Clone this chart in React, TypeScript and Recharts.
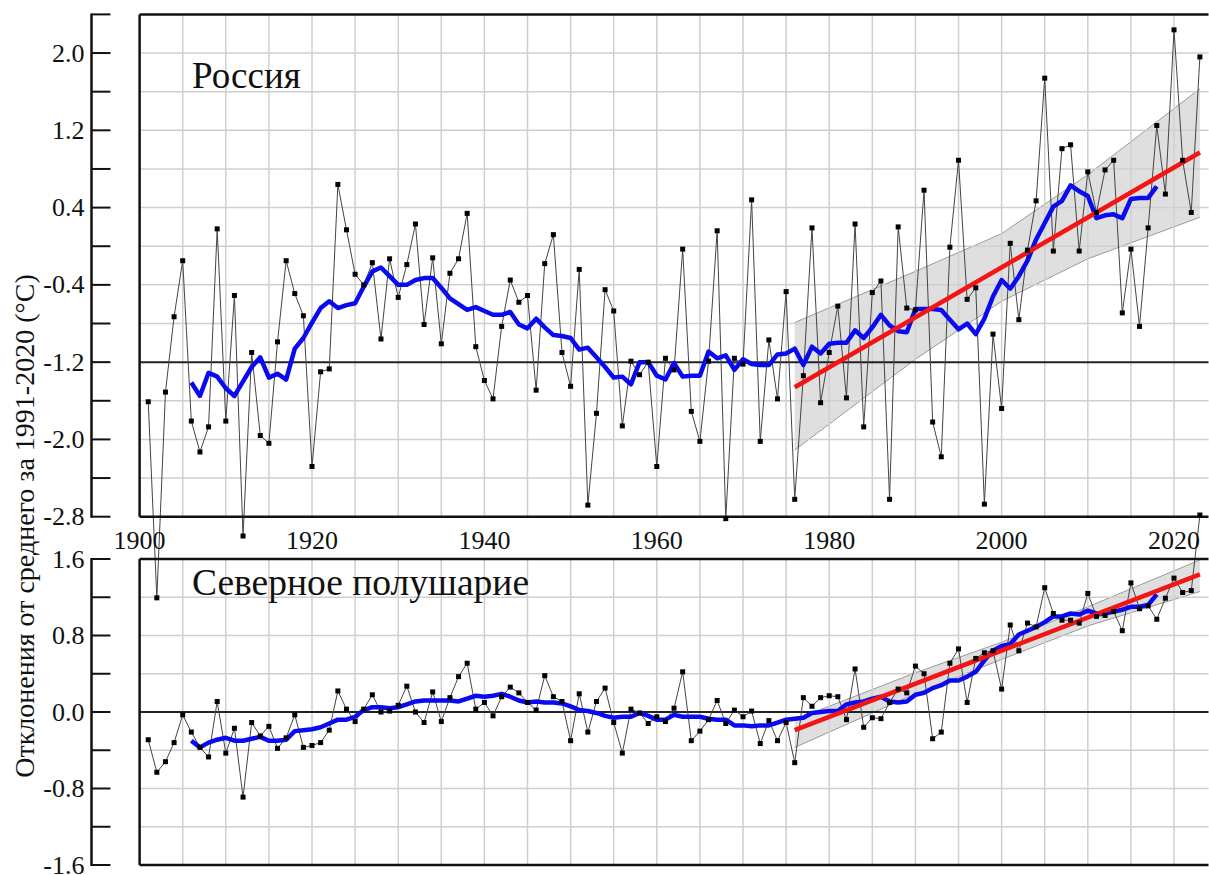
import React from 'react';
import { ComposedChart, Line, Area, XAxis, YAxis, ReferenceLine } from 'recharts';

// annual anomalies, 1901..2023 (values as read on each panel's own axis)
const FIRST_YEAR = 1901;
const russiaAnnual = [
    -1.61, -3.64, -1.51, -0.73, -0.15, -1.81, -2.13, -1.87, 0.18, -1.81,
    -0.51, -3.0, -1.1, -1.96, -2.04, -0.99, -0.15, -0.49, -0.72, -2.28,
    -1.3, -1.27, 0.64, 0.17, -0.29, -0.4, -0.17, -0.96, -0.13, -0.53,
    -0.19, 0.23, -0.81, -0.12, -1.01, -0.28, -0.13, 0.34, -1.04, -1.39,
    -1.58, -0.83, -0.35, -0.58, -0.51, -1.49, -0.18, 0.12, -1.1, -1.45,
    -0.24, -2.68, -1.73, -0.45, -0.67, -1.86, -1.19, -1.33, -1.2, -2.28,
    -1.16, -1.28, -0.03, -1.71, -2.02, -1.19, 0.16, -2.82, -1.16, -1.22,
    0.48, -2.02, -0.97, -1.58, -0.47, -2.62, -1.34, 0.19, -1.62, -1.1,
    -0.62, -1.57, 0.23, -1.87, -0.48, -0.36, -2.62, 0.2, -0.64, -0.66,
    0.58, -1.82, -2.18, -0.01, 0.89, -0.55, -0.43, -2.67, -0.91, -1.68,
    0.03, -0.76, -0.04, 0.47, 1.74, -0.05, 1.01, 1.05, -0.05, 0.77,
    0.35, 0.79, 0.89, -0.69, -0.03, -0.83, 0.19, 1.25, 0.54, 2.24,
    0.89, 0.35, 1.96,
];
const nhAnnual = [
    -0.29, -0.63, -0.52, -0.32, -0.03, -0.21, -0.37, -0.47, 0.11, -0.43,
    -0.17, -0.89, -0.11, -0.25, -0.15, -0.38, -0.27, -0.03, -0.37, -0.35,
    -0.32, -0.19, 0.22, 0.03, -0.1, 0.03, 0.18, 0.0, 0.01, 0.07,
    0.27, 0.0, -0.11, 0.21, -0.1, 0.15, 0.37, 0.51, 0.03, 0.1,
    -0.04, 0.16, 0.26, 0.2, 0.1, 0.02, 0.38, 0.16, 0.11, -0.3,
    0.19, -0.21, 0.11, 0.25, -0.11, -0.43, 0.03, -0.01, -0.12, -0.05,
    -0.1, 0.04, 0.42, -0.3, -0.2, -0.08, 0.12, -0.12, 0.02, -0.05,
    0.01, -0.33, -0.09, -0.3, -0.11, -0.53, 0.15, 0.06, 0.15, 0.17,
    0.16, -0.08, 0.45, -0.16, -0.06, -0.07, 0.1, 0.24, 0.2, 0.48,
    0.4, -0.28, -0.21, 0.51, 0.66, 0.1, 0.56, 0.62, 0.64, 0.24,
    0.91, 0.64, 0.93, 0.89, 1.3, 1.03, 0.96, 0.96, 0.93, 1.24,
    1.0, 1.01, 1.05, 0.85, 1.35, 1.08, 1.11, 0.97, 1.19, 1.4,
    1.25, 1.27, 2.06,
];

// 11-year running means, 1906..2018
const SMOOTH_FIRST_YEAR = 1906;
const russiaSmooth = [
    -1.41, -1.55, -1.31, -1.35, -1.47,
    -1.55, -1.4, -1.25, -1.15, -1.36, -1.32, -1.38, -1.06, -0.95, -0.79,
    -0.64, -0.57, -0.64, -0.61, -0.59, -0.42, -0.26, -0.22, -0.31, -0.4,
    -0.4, -0.35, -0.33, -0.33, -0.43, -0.54, -0.6, -0.66, -0.63, -0.67,
    -0.71, -0.71, -0.68, -0.81, -0.85, -0.75, -0.84, -0.92, -0.93, -0.95,
    -1.07, -1.05, -1.15, -1.25, -1.36, -1.35, -1.43, -1.2, -1.2, -1.34,
    -1.38, -1.21, -1.35, -1.34, -1.34, -1.09, -1.16, -1.13, -1.28, -1.17,
    -1.22, -1.23, -1.23, -1.12, -1.11, -1.06, -1.23, -1.04, -1.11, -1.01,
    -1.0, -1.0, -0.87, -0.95, -0.84, -0.71, -0.82, -0.88, -0.89, -0.65,
    -0.65, -0.65, -0.66, -0.76, -0.86, -0.8, -0.91, -0.75, -0.52, -0.35,
    -0.44, -0.31, -0.15, 0.07, 0.24, 0.41, 0.47, 0.63, 0.57, 0.52,
    0.29, 0.32, 0.33, 0.29, 0.49, 0.5, 0.5, 0.62,
];
const nhSmooth = [
    -0.3, -0.37, -0.32, -0.29, -0.27,
    -0.3, -0.3, -0.28, -0.26, -0.3, -0.3, -0.29, -0.2, -0.19, -0.18,
    -0.16, -0.12, -0.08, -0.08, -0.05, 0.02, 0.05, 0.05, 0.04, 0.05,
    0.08, 0.11, 0.12, 0.12, 0.12, 0.12, 0.11, 0.14, 0.17, 0.16,
    0.17, 0.19, 0.16, 0.12, 0.1, 0.11, 0.1, 0.1, 0.09, 0.06,
    0.02, 0.01, -0.01, -0.04, -0.06, -0.05, -0.05, -0.01, -0.04, -0.08,
    -0.08, -0.03, -0.05, -0.05, -0.05, -0.07, -0.08, -0.08, -0.14, -0.14,
    -0.15, -0.14, -0.14, -0.11, -0.08, -0.07, -0.06, -0.01, 0.0, 0.01,
    0.01, 0.08, 0.1, 0.11, 0.14, 0.16, 0.11, 0.1, 0.11, 0.18,
    0.2, 0.25, 0.28, 0.33, 0.33, 0.37, 0.42, 0.54, 0.64, 0.69,
    0.71, 0.81, 0.85, 0.89, 0.94, 1.0, 1.0, 1.03, 1.02, 1.06,
    1.03, 1.03, 1.05, 1.07, 1.1, 1.1, 1.12, 1.23,
];

// linear trend 1976-2023 and its confidence band
const trendYears = [1976, 2023];
const russiaTrend = [-1.46, 0.97];
const nhTrend = [-0.19, 1.44];
const bandYears = [1976, 1990, 2000, 2010, 2023];
const russiaBandLow = [-2.11, -1.17, -0.57, -0.13, 0.3];
const russiaBandHigh = [-0.79, -0.26, 0.13, 0.74, 1.63];
const nhBandLow = [-0.37, 0.19, 0.55, 0.9, 1.26];
const nhBandHigh = [-0.08, 0.41, 0.73, 1.1, 1.59];

// axes
const russiaTicks = [2.4, 2.0, 1.6, 1.2, 0.8, 0.4, 0.0, -0.4, -0.8, -1.2, -1.6, -2.0, -2.4, -2.8];
const russiaTickLabels = [2.0, 1.2, 0.4, -0.4, -1.2, -2.0, -2.8];
const nhTicks = [1.6, 1.2, 0.8, 0.4, 0.0, -0.4, -0.8, -1.2, -1.6];
const nhTickLabels = [1.6, 0.8, 0.0, -0.8, -1.6];
const gridYears = [
    1905, 1910, 1915, 1920, 1925, 1930, 1935, 1940, 1945, 1950, 1955, 1960,
    1965, 1970, 1975, 1980, 1985, 1990, 1995, 2000, 2005, 2010, 2015, 2020,
];
const yearLabels = [1900, 1920, 1940, 1960, 1980, 2000, 2020];
const russiaBaseline = -1.2;
const nhBaseline = 0;

// layout (px)
const W = 1209;
const H = 875;
const PLOT_LEFT = 139.6;
const PLOT_TOP = 14.4;
const PLOT_BOTTOM = 865;
const RUS_TOP = 14.4; // 2.4
const RUS_BOTTOM = 516.7; // -2.8
const NH_TOP = 559; // 1.6
const NH_BOTTOM = 865; // -1.6
const SPINE_X = 91.5;
const YEAR_LABEL_Y = 549;

const GRID = '#cfcfcf';
const INK = '#111';
const serif = { fontFamily: 'Liberation Serif, DejaVu Serif, serif' };

// both panels share one plot area, so each y axis is stretched past its panel
const rusPx = (RUS_BOTTOM - RUS_TOP) / 5.2;
const rusDomain = [-2.8 - (PLOT_BOTTOM - RUS_BOTTOM) / rusPx, 2.4];
const nhPx = (NH_BOTTOM - NH_TOP) / 3.2;
const nhDomain = [-1.6, 1.6 + (NH_TOP - PLOT_TOP) / nhPx];

const rows = russiaAnnual.map((rus, i) => {
    const year = FIRST_YEAR + i;
    const s = year - SMOOTH_FIRST_YEAR;
    const t = trendYears.indexOf(year);
    const b = bandYears.indexOf(year);
    return {
        year,
        rus,
        nh: nhAnnual[i],
        rusSmooth: s >= 0 && s < russiaSmooth.length ? russiaSmooth[s] : undefined,
        nhSmooth: s >= 0 && s < nhSmooth.length ? nhSmooth[s] : undefined,
        rusTrend: t >= 0 ? russiaTrend[t] : undefined,
        nhTrend: t >= 0 ? nhTrend[t] : undefined,
        rusBand: b >= 0 ? [russiaBandLow[b], russiaBandHigh[b]] : undefined,
        nhBand: b >= 0 ? [nhBandLow[b], nhBandHigh[b]] : undefined,
    };
});

function yTick(labels: number[]) {
    return (p: any) => {
        const v = p.payload.value;
        const show = labels.some((l) => Math.abs(l - v) < 1e-9);
        return (
            <g>
                <line x1={SPINE_X} x2={SPINE_X + 19} y1={p.y} y2={p.y} stroke={INK} strokeWidth={2} />
                {show && (
                    <text
                        x={SPINE_X - 7}
                        y={p.y}
                        textAnchor="end"
                        dominantBaseline="central"
                        fontSize={26}
                        style={serif}
                        fill={INK}
                    >
                        {v.toFixed(1)}
                    </text>
                )}
            </g>
        );
    };
}

const yearTick = (p: any) => (
    <text x={p.x} y={YEAR_LABEL_Y} textAnchor="middle" fontSize={26} style={serif} fill={INK}>
        {p.payload.value}
    </text>
);

const squareDot = (p: any) => {
    if (p.cy == null || Number.isNaN(p.cy)) return <g key={`e${p.index}`} />;
    return <rect key={`d${p.index}`} x={p.cx - 2.5} y={p.cy - 2.5} width={5} height={5} fill="#000" />;
};

function panelGrid(id: string, ticks: number[], lo: number, hi: number, base: number) {
    return [
        ...ticks
            .filter((v) => v !== lo && v !== hi && v !== base)
            .map((v) => (
                <ReferenceLine key={`${id}h${v}`} yAxisId={id} y={v} stroke={GRID} strokeWidth={1.5} />
            )),
        ...gridYears.map((yr) => (
            <ReferenceLine
                key={`${id}v${yr}`}
                yAxisId={id}
                segment={[{ x: yr, y: lo }, { x: yr, y: hi }]}
                stroke={GRID}
                strokeWidth={1.5}
            />
        )),
    ];
}

function panelFrame(id: string, lo: number, hi: number) {
    return [
        <ReferenceLine key={`${id}ft`} yAxisId={id} y={hi} stroke={INK} strokeWidth={2.5} />,
        <ReferenceLine key={`${id}fb`} yAxisId={id} y={lo} stroke={INK} strokeWidth={2.5} />,
        <ReferenceLine
            key={`${id}fl`}
            yAxisId={id}
            segment={[{ x: 1900, y: lo }, { x: 1900, y: hi }]}
            stroke={INK}
            strokeWidth={2.5}
        />,
    ];
}

export default function App() {
    return (
        <div style={{ position: 'absolute', left: 0, top: 0, width: W, height: H, background: '#fff' }}>
            <ComposedChart
                width={W}
                height={H}
                data={rows}
                margin={{ top: PLOT_TOP, right: 0.5, bottom: 0, left: 0 }}
            >
                <XAxis
                    dataKey="year"
                    type="number"
                    domain={[1900, 2024]}
                    ticks={yearLabels}
                    interval={0}
                    tick={yearTick}
                    tickLine={false}
                    axisLine={false}
                    height={H - PLOT_BOTTOM}
                />
                <YAxis
                    yAxisId="nh"
                    type="number"
                    domain={nhDomain}
                    ticks={nhTicks}
                    interval={0}
                    tick={yTick(nhTickLabels)}
                    tickLine={false}
                    axisLine={false}
                    width={1}
                />
                <YAxis
                    yAxisId="rus"
                    type="number"
                    domain={rusDomain}
                    ticks={russiaTicks}
                    interval={0}
                    tick={yTick(russiaTickLabels)}
                    tickLine={false}
                    axisLine={false}
                    width={PLOT_LEFT - 1}
                />

                {panelGrid('rus', russiaTicks, -2.8, 2.4, russiaBaseline)}
                {panelGrid('nh', nhTicks, -1.6, 1.6, nhBaseline)}

                <Area
                    yAxisId="rus"
                    dataKey="rusBand"
                    type="linear"
                    connectNulls
                    fill="#c4c4c4"
                    fillOpacity={0.55}
                    stroke="#9a9a9a"
                    strokeWidth={1}
                    isAnimationActive={false}
                />
                <Area
                    yAxisId="nh"
                    dataKey="nhBand"
                    type="linear"
                    connectNulls
                    fill="#c4c4c4"
                    fillOpacity={0.55}
                    stroke="#9a9a9a"
                    strokeWidth={1}
                    isAnimationActive={false}
                />

                <ReferenceLine yAxisId="rus" y={russiaBaseline} stroke="#222" strokeWidth={2} />
                <ReferenceLine yAxisId="nh" y={nhBaseline} stroke="#222" strokeWidth={2} />

                <Line
                    yAxisId="rus"
                    dataKey="rus"
                    type="linear"
                    stroke="#444"
                    strokeWidth={1}
                    dot={squareDot}
                    activeDot={false}
                    isAnimationActive={false}
                />
                <Line
                    yAxisId="nh"
                    dataKey="nh"
                    type="linear"
                    stroke="#444"
                    strokeWidth={1}
                    dot={squareDot}
                    activeDot={false}
                    isAnimationActive={false}
                />
                <Line
                    yAxisId="rus"
                    dataKey="rusSmooth"
                    type="linear"
                    stroke="#0a0af0"
                    strokeWidth={4.5}
                    strokeLinejoin="round"
                    dot={false}
                    activeDot={false}
                    isAnimationActive={false}
                />
                <Line
                    yAxisId="nh"
                    dataKey="nhSmooth"
                    type="linear"
                    stroke="#0a0af0"
                    strokeWidth={4.5}
                    strokeLinejoin="round"
                    dot={false}
                    activeDot={false}
                    isAnimationActive={false}
                />
                <Line
                    yAxisId="rus"
                    dataKey="rusTrend"
                    type="linear"
                    connectNulls
                    stroke="#f41414"
                    strokeWidth={4.5}
                    dot={false}
                    activeDot={false}
                    isAnimationActive={false}
                />
                <Line
                    yAxisId="nh"
                    dataKey="nhTrend"
                    type="linear"
                    connectNulls
                    stroke="#f41414"
                    strokeWidth={4.5}
                    dot={false}
                    activeDot={false}
                    isAnimationActive={false}
                />

                {panelFrame('rus', -2.8, 2.4)}
                {panelFrame('nh', -1.6, 1.6)}
            </ComposedChart>

            <svg
                width={W}
                height={H}
                style={{ position: 'absolute', left: 0, top: 0, pointerEvents: 'none', ...serif }}
            >
                <line x1={SPINE_X} x2={SPINE_X} y1={RUS_TOP - 1} y2={RUS_BOTTOM + 1} stroke={INK} strokeWidth={2.5} />
                <line x1={SPINE_X} x2={SPINE_X} y1={NH_TOP - 1} y2={NH_BOTTOM + 1} stroke={INK} strokeWidth={2.5} />
                <text x={192} y={88} fontSize={37} fill={INK}>
                    Россия
                </text>
                <text x={192} y={595} fontSize={37.5} fill={INK}>
                    Северное полушарие
                </text>
                <text
                    x={0}
                    y={0}
                    transform="translate(34 526) rotate(-90)"
                    textAnchor="middle"
                    fontSize={28}
                    fill={INK}
                >
                    Отклонения от среднего за 1991-2020 (°C)
                </text>
            </svg>
        </div>
    );
}
